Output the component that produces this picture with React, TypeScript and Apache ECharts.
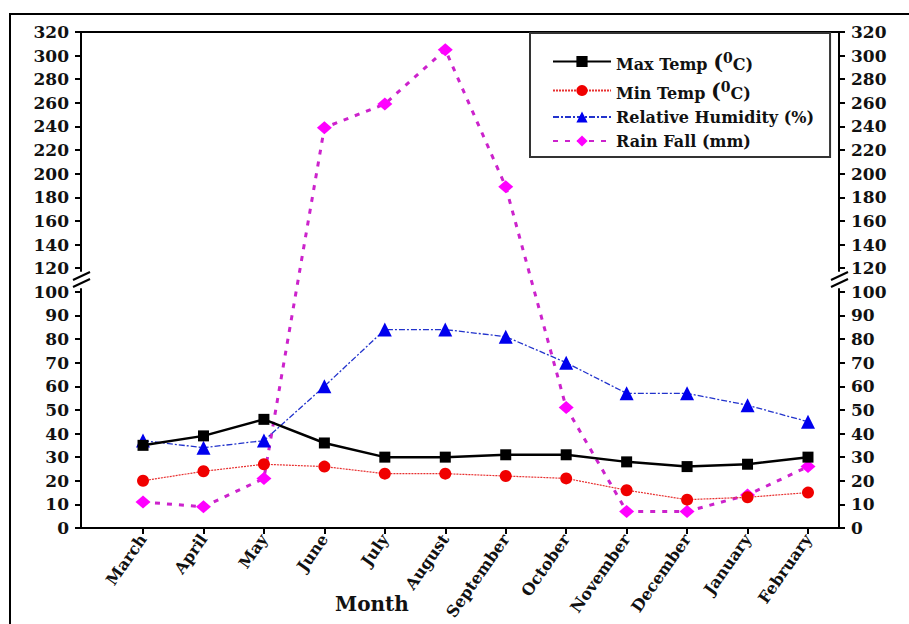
import React, { useEffect, useRef } from 'react';
import * as echarts from 'echarts';

const months = ['March', 'April', 'May', 'June', 'July', 'August', 'September', 'October', 'November', 'December', 'January', 'February'];
const maxTemp = [35, 39, 46, 36, 30, 30, 31, 31, 28, 26, 27, 30];
const minTemp = [20, 24, 27, 26, 23, 23, 22, 21, 16, 12, 13, 15];
const humidity = [37, 34, 37, 60, 84, 84, 81, 70, 57, 57, 52, 45];
const rainFall = [11, 9, 21, 239, 259, 305, 189, 51, 7, 7, 14, 26];
const lowerTicks = [0, 10, 20, 30, 40, 50, 60, 70, 80, 90, 100];
const upperTicks = [120, 140, 160, 180, 200, 220, 240, 260, 280, 300, 320];
const seriesNames = ['Max Temp (0C)', 'Min Temp (0C)', 'Relative Humidity (%)', 'Rain Fall (mm)'];

const BREAK = 100;
const toDisplay = (v: number) => (v <= BREAK ? v : BREAK + (v - BREAK) / 2);
const fromDisplay = (d: number) => (d <= BREAK ? d : BREAK + (d - BREAK) * 2);

const FONT = 'DejaVu Serif';

export default function App() {
  const ref = useRef<HTMLDivElement>(null);
  useEffect(() => {
    const chart = echarts.init(ref.current!, null, { renderer: 'svg' });
    const tickDisplay = [...lowerTicks, ...upperTicks].map(toDisplay);
    const yAxisBase = (position: string) => ({
      type: 'value',
      position,
      min: 0,
      max: toDisplay(320),
      interval: 10,
      axisLine: { show: true, onZero: false, lineStyle: { color: '#000', width: 2 } },
      axisTick: { show: true, length: 6, inside: false, lineStyle: { color: '#000', width: 2 }, customValues: tickDisplay },
      axisLabel: {
        customValues: tickDisplay,
        formatter: (v: number) => String(Math.round(fromDisplay(v))),
        margin: 12,
        fontFamily: FONT,
        fontWeight: 'bold',
        fontSize: 17,
        color: '#111',
      },
      splitLine: { show: false },
    });
    const toData = (arr: number[]) => arr.map((v, i) => [i, toDisplay(v)]);
    const richT = { fontFamily: FONT, fontWeight: 'bold', fontSize: 16, color: '#111', verticalAlign: 'bottom' };
    const option: any = {
      animation: false,
      backgroundColor: '#fff',
      grid: {
        left: 81, right: 70, top: 32, bottom: 96,
        outerBoundsMode: 'none', containLabel: false,
        show: true, borderColor: '#000', borderWidth: 2, backgroundColor: 'transparent',
      },
      xAxis: {
        type: 'value',
        min: -1.026,
        max: 11.513,
        axisLine: { show: true, onZero: false, lineStyle: { color: '#000', width: 2 } },
        axisTick: { show: true, length: 6, lineStyle: { color: '#000', width: 2 }, customValues: months.map((_, i) => i) },
        axisLabel: {
          customValues: months.map((_, i) => i),
          formatter: (v: number) => months[Math.round(v)] ?? '',
          rotate: 55,
          margin: 8,
          fontFamily: FONT,
          fontWeight: 'bold',
          fontSize: 16,
          color: '#111',
        },
        splitLine: { show: false },
        name: 'Month',
        nameLocation: 'middle',
        nameGap: 66,
        nameMoveOverlap: false,
        nameTextStyle: { fontFamily: FONT, fontWeight: 'bold', fontSize: 20, color: '#111', padding: [0, 176, 0, 0] },
      },
      yAxis: [yAxisBase('left'), yAxisBase('right')],
      legend: {
        orient: 'vertical',
        left: 530,
        top: 33,
        data: seriesNames,
        itemWidth: 58,
        itemHeight: 14,
        itemGap: 8,
        padding: [18, 16, 8, 22],
        borderColor: '#333',
        borderWidth: 2,
        backgroundColor: '#fff',
        formatter: (name: string) => {
          if (name.endsWith('(0C)')) {
            return `{t|${name.slice(0, -4)}}{p|(}{s|0}{t|C)}`;
          }
          return `{t|${name}}`;
        },
        textStyle: {
          fontFamily: FONT,
          fontWeight: 'bold',
          fontSize: 16,
          color: '#111',
          rich: {
            t: richT,
            p: { ...richT, fontSize: 21 },
            s: { ...richT, fontSize: 14, verticalAlign: 'top' },
          },
        },
      },
      series: [
        {
          name: seriesNames[0],
          type: 'line',
          data: toData(maxTemp),
          symbol: 'rect',
          symbolSize: 11,
          itemStyle: { color: '#000' },
          lineStyle: { color: '#000', width: 2.5 },
          z: 4,
        },
        {
          name: seriesNames[1],
          type: 'line',
          data: toData(minTemp),
          symbol: 'circle',
          symbolSize: 12,
          itemStyle: { color: '#f00000' },
          lineStyle: { color: '#e83030', width: 1.2, type: [2, 1] },
          z: 3,
        },
        {
          name: seriesNames[2],
          type: 'line',
          data: toData(humidity),
          symbol: 'triangle',
          symbolSize: 14,
          itemStyle: { color: '#0000ee' },
          lineStyle: { color: '#2233cc', width: 1.3, type: [6, 2, 2, 2] },
          z: 3,
        },
        {
          name: seriesNames[3],
          type: 'line',
          data: toData(rainFall),
          symbol: 'diamond',
          symbolSize: [15, 13],
          itemStyle: { color: '#ff00ff' },
          lineStyle: { color: '#cc22cc', width: 3, type: [5, 7] },
          z: 2,
        },
      ],
    };
    chart.setOption(option);

    const yLow = chart.convertToPixel({ yAxisIndex: 0 }, toDisplay(BREAK) + 1.5) as number;
    const yHigh = chart.convertToPixel({ yAxisIndex: 0 }, toDisplay(120) - 1.5) as number;
    const yMid = (yLow + yHigh) / 2;
    const xLeft = chart.convertToPixel({ xAxisIndex: 0 }, -1.026) as number;
    const xRight = chart.convertToPixel({ xAxisIndex: 0 }, 11.513) as number;
    const breakMarks = (x: number) => [
      { type: 'rect', z: 100, shape: { x: x - 5, y: yHigh, width: 10, height: yLow - yHigh }, style: { fill: '#fff' } },
      { type: 'line', z: 101, shape: { x1: x - 8, y1: yMid - 0, x2: x + 9, y2: yMid - 8 }, style: { stroke: '#000', lineWidth: 2 } },
      { type: 'line', z: 101, shape: { x1: x - 8, y1: yMid + 7, x2: x + 9, y2: yMid - 1 }, style: { stroke: '#000', lineWidth: 2 } },
    ];
    chart.setOption({
      graphic: [
        { type: 'rect', z: 100, shape: { x: 10, y: 14, width: 1200, height: 1200 }, style: { fill: 'none', stroke: '#000', lineWidth: 2 } },
        ...breakMarks(xLeft),
        ...breakMarks(xRight),
      ],
    });
    return () => chart.dispose();
  }, []);
  return <div ref={ref} style={{ position: 'absolute', left: 0, top: 0, width: 909, height: 624, background: '#fff' }} />;
}
